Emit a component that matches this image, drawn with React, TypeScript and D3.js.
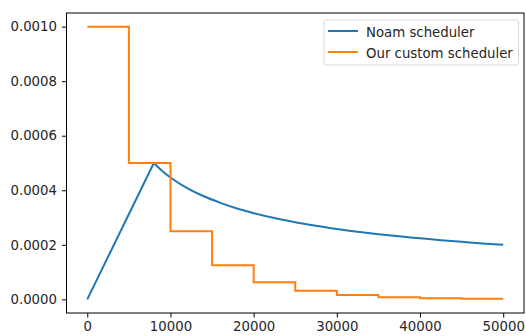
import React, { useEffect, useRef } from 'react';
import * as d3 from 'd3';

// Noam scheduler
const noamSteps = [0, 8000, 9000, 10000, 12000, 14000, 16000, 18000, 20000, 22500, 25000, 27500, 30000, 32500, 35000, 37500, 40000, 42500, 45000, 47500, 50000];
const noamLr = [0, 0.0005, 0.000471, 0.000447, 0.000408, 0.000378, 0.000354, 0.000333, 0.000316, 0.000298, 0.000283, 0.00027, 0.000258, 0.000248, 0.000239, 0.000231, 0.000224, 0.000217, 0.000211, 0.000205, 0.0002];

// custom step scheduler
const customSteps = [0, 5000, 10000, 15000, 20000, 25000, 30000, 35000, 40000, 45000, 50000];
const customLr = [0.001, 0.0005, 0.00025, 0.000125, 0.0000625, 0.00003125, 0.0000156, 0.0000078, 0.0000039, 0.00000195, 0.00000195];

const xTicks = [0, 10000, 20000, 30000, 40000, 50000];
const yTicks = [0, 0.0002, 0.0004, 0.0006, 0.0008, 0.001];
const labels = ['Noam scheduler', 'Our custom scheduler'];
const colors = ['#1f77b4', '#ff7f0e'];

export default function App() {
    const svgRef = useRef(null);
    const W = 526, H = 336;
    const margin = { top: 13, right: 2, bottom: 23, left: 66.5 };

    useEffect(() => {
        const svg = d3.select(svgRef.current);
        svg.selectAll("*").remove();
        const font = "DejaVu Sans, sans-serif";
        const fs = 13.3;

        const x = d3.scaleLinear().domain([-2500, 52500]).range([margin.left, W - margin.right]);
        const y = d3.scaleLinear().domain([-0.00005, 0.00105]).range([H - margin.bottom, margin.top]);

        const xAxis = svg.append("g")
            .attr("transform", `translate(0, ${H - margin.bottom})`)
            .call(d3.axisBottom(x).tickValues(xTicks).tickSize(4.5).tickPadding(4).tickFormat(d3.format("d")));
        const yAxis = svg.append("g")
            .attr("transform", `translate(${margin.left}, 0)`)
            .call(d3.axisLeft(y).tickValues(yTicks).tickSize(4.5).tickPadding(5).tickFormat(d3.format(".4f")));
        [xAxis, yAxis].forEach(g => {
            g.select(".domain").remove();
            g.selectAll("line").attr("stroke", "#000").attr("stroke-width", 1);
            g.selectAll("text").attr("font-family", font).attr("font-size", fs).attr("fill", "#262626");
        });

        svg.append("path")
            .datum(noamLr)
            .attr("fill", "none")
            .attr("stroke", colors[0])
            .attr("stroke-width", 2)
            .attr("d", (data) => {
                // straight warmup, smooth decay
                const warm = d3.line().x((d, i) => x(noamSteps[i])).y(d => y(d))(data.slice(0, 2));
                const decay = d3.line().x((d, i) => x(noamSteps[i + 1])).y(d => y(d)).curve(d3.curveMonotoneX)(data.slice(1));
                return warm + decay;
            });

        const customLine = d3.line()
            .x((d, i) => x(customSteps[i]))
            .y(d => y(d))
            .curve(d3.curveStepAfter);
        svg.append("path")
            .datum(customLr)
            .attr("fill", "none")
            .attr("stroke", colors[1])
            .attr("stroke-width", 2)
            .attr("d", customLine);

        // frame
        svg.append("rect")
            .attr("x", margin.left)
            .attr("y", margin.top)
            .attr("width", W - margin.right - margin.left)
            .attr("height", H - margin.bottom - margin.top)
            .attr("fill", "none")
            .attr("stroke", "#000")
            .attr("stroke-width", 1);

        // legend
        const legend = svg.append("g").attr("transform", "translate(324, 20)");
        legend.append("rect")
            .attr("width", 194.5)
            .attr("height", 45)
            .attr("rx", 2)
            .attr("fill", "#fff")
            .attr("fill-opacity", 0.8)
            .attr("stroke", "#d9d9d9")
            .attr("stroke-width", 1);
        labels.forEach((lab, i) => {
            legend.append("line")
                .attr("x1", 4).attr("x2", 34)
                .attr("y1", 11 + i * 21).attr("y2", 11 + i * 21)
                .attr("stroke", colors[i])
                .attr("stroke-width", 2);
            legend.append("text")
                .attr("x", 42)
                .attr("y", 16.5 + i * 21)
                .attr("font-family", font)
                .attr("font-size", fs)
                .attr("fill", "#262626")
                .text(lab);
        });
    }, []);

    return <svg ref={svgRef} width={W} height={H} style={{ position: "absolute", left: 0, top: 0, background: "#fff" }} />;
}
